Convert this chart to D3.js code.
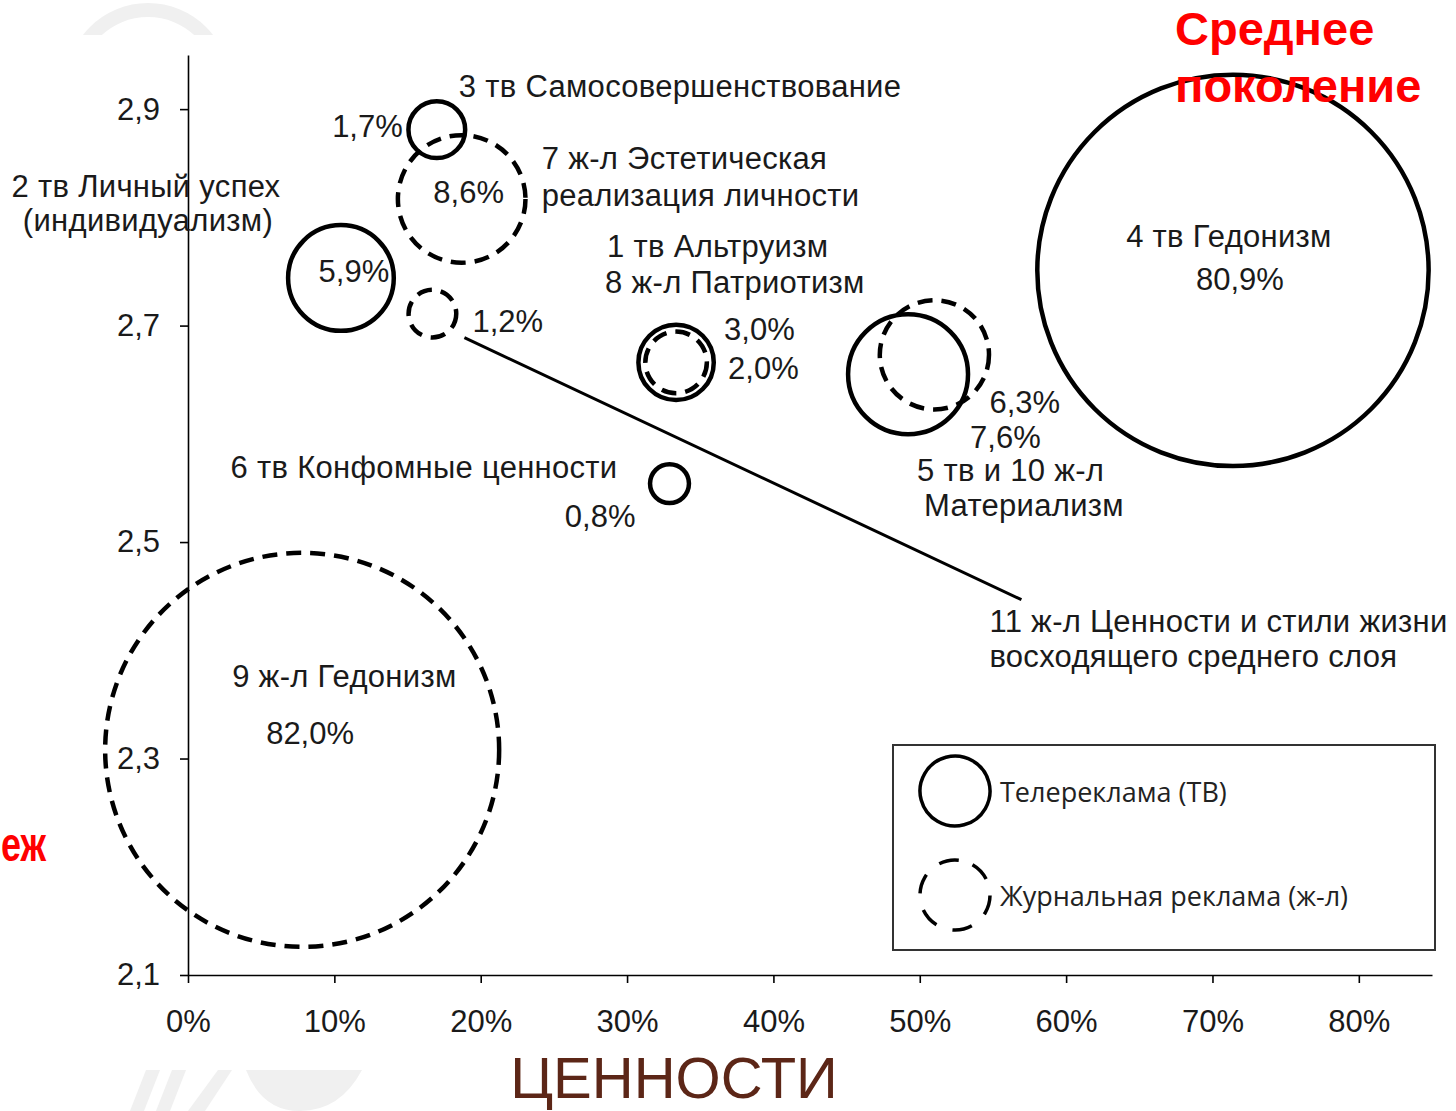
<!DOCTYPE html>
<html>
<head>
<meta charset="utf-8">
<script src="https://cdn.jsdelivr.net/npm/d3@7"></script>
<style>
  body { margin: 0; background: #fff; }
  svg { display: block; }
  text { font-family: "Liberation Sans", Arial, sans-serif; }
</style>
</head>
<body>
<svg></svg>
<script>
const width = 1456;
const height = 1111;

// ценности: тип рекламы, доля (%), положение по осям
const media = ["tv", "mag", "tv", "mag", "tv", "mag", "tv", "mag", "tv", "tv", "mag"];
const shares = [1.7, 8.6, 5.9, 1.2, 3.0, 2.0, 7.6, 6.3, 0.8, 80.9, 82.0];
const xValues = [0.170, 0.187, 0.1045, 0.167, 0.3335, 0.3335, 0.492, 0.510, 0.329, 0.714, 0.078];
const yValues = [2.881, 2.817, 2.744, 2.711, 2.666, 2.666, 2.655, 2.673, 2.554, 2.751, 2.308];
const xTicks = [0, 0.1, 0.2, 0.3, 0.4, 0.5, 0.6, 0.7, 0.8];
const yTicks = [2.1, 2.3, 2.5, 2.7, 2.9];
const legendItems = ["Телереклама (ТВ)", "Журнальная реклама (ж-л)"];
const legendMedia = ["tv", "mag"];

// подписи (смещение в пикселях от центра пузыря)
const nameLabels = [
  {i: 0, text: "3 тв Самосовершенствование", dx: 22, dy: -33, anchor: "start"},
  {i: 1, text: "7 ж-л Эстетическая", dx: 80, dy: -30, anchor: "start"},
  {i: 1, text: "реализация личности", dx: 80, dy: 7, anchor: "start"},
  {i: 2, text: "2 тв Личный успех", dx: -195, dy: -81, anchor: "middle"},
  {i: 2, text: "(индивидуализм)", dx: -193, dy: -47, anchor: "middle"},
  {i: 3, text: "11 ж-л Ценности и стили жизни", dx: 557, dy: 318, anchor: "start"},
  {i: 3, text: "восходящего среднего слоя", dx: 557, dy: 353, anchor: "start"},
  {i: 4, text: "1 тв Альтруизм", dx: -69, dy: -105, anchor: "start"},
  {i: 5, text: "8 ж-л Патриотизм", dx: -71, dy: -69, anchor: "start"},
  {i: 6, text: "5 тв и 10 ж-л", dx: 9, dy: 107, anchor: "start"},
  {i: 6, text: "Материализм", dx: 16, dy: 142, anchor: "start"},
  {i: 8, text: "6 тв Конфомные ценности", dx: -52, dy: -6, anchor: "end"},
  {i: 9, text: "4 тв Гедонизм", dx: -4, dy: -23, anchor: "middle"},
  {i: 10, text: "9 ж-л Гедонизм", dx: -70, dy: -63, anchor: "start"}
];
const pctLabels = [
  {i: 0, dx: -34, dy: 7, anchor: "end"},
  {i: 1, dx: 7, dy: 4, anchor: "middle"},
  {i: 2, dx: 13, dy: 4, anchor: "middle"},
  {i: 3, dx: 40, dy: 18, anchor: "start"},
  {i: 4, dx: 48, dy: -22, anchor: "start"},
  {i: 5, dx: 52, dy: 17, anchor: "start"},
  {i: 6, dx: 62, dy: 74, anchor: "start"},
  {i: 7, dx: 55, dy: 58, anchor: "start"},
  {i: 8, dx: -34, dy: 43, anchor: "end"},
  {i: 9, dx: 7, dy: 20, anchor: "middle"},
  {i: 10, dx: -36, dy: -6, anchor: "start"}
];

const bubbles = shares.map((s, i) => ({
  share: s, media: media[i], x: xValues[i], y: yValues[i]
}));

const ru = d3.formatLocale({decimal: ",", thousands: " ", grouping: [3], currency: ["", " ₽"]});
const pct = d => ru.format(".1f")(d) + "%";

const x = d3.scaleLinear().domain([0, 0.85]).range([188, 1432]);
const y = d3.scaleLinear().domain([2.1, 2.95]).range([975, 55]);
const r = d3.scaleSqrt().domain([0, 82]).range([0, 197]);

const svg = d3.select("svg")
  .attr("width", width)
  .attr("height", height);

svg.append("rect").attr("width", width).attr("height", height).attr("fill", "#fff");

// бледный логотип на фоне слайда
svg.append("clipPath").attr("id", "topclip")
  .append("rect").attr("width", width).attr("height", 35);
svg.append("g")
  .attr("clip-path", "url(#topclip)")
  .append("path")
  .attr("transform", "translate(148,85)")
  .attr("d", d3.arc().innerRadius(68).outerRadius(82).startAngle(0).endAngle(2 * Math.PI)())
  .attr("fill", "#f0f0f0");

const logo = svg.append("g").attr("fill", "#f0f0f0");
logo.append("path").attr("d", "M130,1111 L144,1111 L160,1070 L146,1070 Z");
logo.append("path").attr("d", "M156,1111 L170,1111 L186,1070 L172,1070 Z");
logo.append("path").attr("d", "M188,1111 L205,1111 L232,1070 L218,1070 Z");
logo.append("path").attr("d", "M246,1070 L362,1070 Q340,1111 300,1111 Q262,1111 246,1070 Z");

// оси
const yAxis = svg.append("g")
  .attr("transform", `translate(${x(0)},0)`)
  .call(d3.axisLeft(y).tickValues(yTicks).tickSize(8).tickSizeOuter(0).tickPadding(20)
    .tickFormat(d => ru.format(".1f")(d)));

const xAxis = svg.append("g")
  .attr("transform", `translate(0,${y(2.1)})`)
  .call(d3.axisBottom(x).tickValues(xTicks).tickSize(8).tickSizeOuter(0).tickPadding(27)
    .tickFormat(d3.format(".0%")));

[yAxis, xAxis].forEach(g => {
  g.attr("font-size", 31).attr("font-family", "Liberation Sans, Arial, sans-serif");
  g.selectAll("path, line").attr("stroke", "#000").attr("stroke-width", 1.6);
  g.selectAll("text").attr("fill", "#1a1a1a");
});

// пузыри
svg.append("g")
  .selectAll("circle")
  .data(bubbles)
  .join("circle")
  .attr("cx", d => x(d.x))
  .attr("cy", d => y(d.y))
  .attr("r", d => r(d.share))
  .attr("fill", "none")
  .attr("stroke", "#000")
  .attr("stroke-width", 4.5)
  .attr("stroke-dasharray", d => d.media === "mag" ? "15,9" : null);

// выноска к 11 ж-л
const lead = bubbles[3];
svg.append("line")
  .attr("x1", x(lead.x) + 32)
  .attr("y1", y(lead.y) + 24)
  .attr("x2", x(lead.x) + 589)
  .attr("y2", y(lead.y) + 286)
  .attr("stroke", "#000")
  .attr("stroke-width", 3);

// подписи
svg.append("g")
  .selectAll("text")
  .data(nameLabels)
  .join("text")
  .attr("x", d => x(bubbles[d.i].x) + d.dx)
  .attr("y", d => y(bubbles[d.i].y) + d.dy)
  .attr("text-anchor", d => d.anchor)
  .attr("font-size", 31)
  .attr("letter-spacing", 0.3)
  .attr("fill", "#1a1a1a")
  .text(d => d.text);

svg.append("g")
  .selectAll("text")
  .data(pctLabels)
  .join("text")
  .attr("x", d => x(bubbles[d.i].x) + d.dx)
  .attr("y", d => y(bubbles[d.i].y) + d.dy)
  .attr("text-anchor", d => d.anchor)
  .attr("font-size", 31)
  .attr("fill", "#1a1a1a")
  .text(d => pct(bubbles[d.i].share));

// легенда
const legend = svg.append("g").attr("transform", "translate(893,745)");
legend.append("rect")
  .attr("width", 542).attr("height", 205)
  .attr("fill", "none").attr("stroke", "#333").attr("stroke-width", 2);
const item = legend.selectAll("g")
  .data(legendItems)
  .join("g")
  .attr("transform", (d, i) => `translate(62,${46 + i * 104})`);
item.append("circle")
  .attr("r", 35)
  .attr("fill", "none")
  .attr("stroke", "#000")
  .attr("stroke-width", 3.5)
  .attr("stroke-dasharray", (d, i) => legendMedia[i] === "mag" ? "20,17" : null)
  .attr("transform", "rotate(-60)");
item.append("text")
  .attr("x", 45)
  .attr("y", 11)
  .style("font-family", "'Open Sans', 'Noto Sans', sans-serif")
  .attr("font-size", 27)
  .attr("fill", "#222")
  .text(d => d);

// заголовки слайда
svg.append("text")
  .attr("x", 1175).attr("y", 45)
  .attr("font-size", 47).attr("font-weight", "bold").attr("fill", "#ff0000")
  .text("Среднее");
svg.append("text")
  .attr("x", 1175).attr("y", 102)
  .attr("font-size", 47).attr("font-weight", "bold").attr("fill", "#ff0000")
  .text("поколение");
svg.append("text")
  .attr("x", 1).attr("y", 861)
  .attr("font-size", 48).attr("font-weight", "bold").attr("fill", "#ff0000")
  .attr("textLength", 45).attr("lengthAdjust", "spacingAndGlyphs")
  .text("еж");
svg.append("text")
  .attr("x", 674).attr("y", 1098)
  .attr("text-anchor", "middle")
  .attr("font-size", 58)
  .attr("fill", "#5c2617")
  .text("ЦЕННОСТИ");
</script>
</body>
</html>
